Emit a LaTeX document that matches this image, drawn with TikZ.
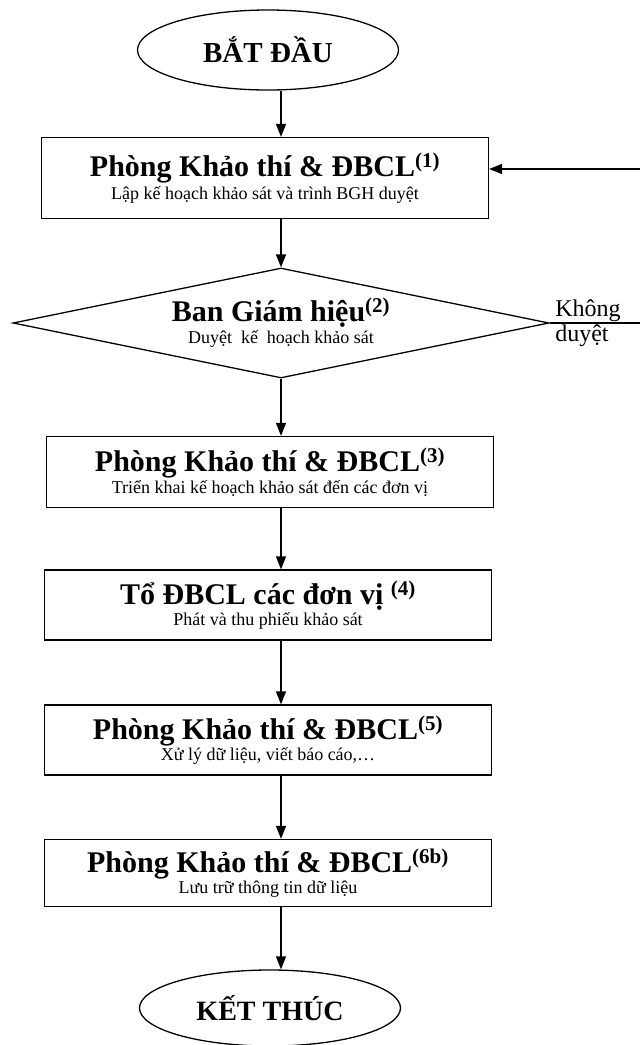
\documentclass[tikz,border=0pt]{standalone}
\usepackage{fontspec}
\setmainfont{Liberation Serif}
\usetikzlibrary{shapes.geometric,arrows.meta}

\newcommand{\tieude}[2]{{\fontsize{30}{32}\selectfont\bfseries #1\textsuperscript{#2}}}
\newcommand{\mota}[1]{{\fontsize{18}{20}\selectfont #1}}

\begin{document}
\begin{tikzpicture}[x=1pt,y=-1pt,line width=1.3pt,>={Triangle[length=13pt,width=10pt]},
  box/.style={rectangle,draw,minimum width=447pt,align=center,inner sep=0pt},
  oval/.style={ellipse,draw,minimum width=261pt,minimum height=80pt,inner sep=0pt}]
\useasboundingbox (0,0) rectangle (640,1045);
\path (268,50) node(start) [oval] {\fontsize{29}{30}\selectfont\bfseries BẮT ĐẦU}
(265,178) node(b1) [box,minimum height=81pt] {\tieude{Phòng Khảo thí \& ĐBCL}{(1)}\\[2pt] \mota{Lập kế hoạch khảo sát và trình BGH duyệt}}
(281,323) node(dia) [diamond,draw,shape aspect=4.87,minimum width=536pt,minimum height=110pt,inner sep=0pt,align=center] {\tieude{Ban Giám hiệu}{(2)}\\[2pt] \mota{Duyệt\ \ kế\ \ hoạch khảo sát}}
(270,472) node(b3) [box,minimum height=71pt] {\tieude{Phòng Khảo thí \& ĐBCL}{(3)}\\[1pt] \mota{Triển khai kế hoạch khảo sát đến các đơn vị}}
(268,605) node(b4) [box,minimum height=70pt] {\tieude{Tổ ĐBCL các đơn vị\ }{(4)}\\[1pt] \mota{Phát và thu phiếu khảo sát}}
(268,740) node(b5) [box,minimum height=70pt] {\tieude{Phòng Khảo thí \& ĐBCL}{(5)}\\[1pt] \mota{Xử lý dữ liệu, viết báo cáo,…}}
(268,873) node(b6) [box,minimum height=67pt] {\tieude{Phòng Khảo thí \& ĐBCL}{(6b)}\\[1pt] \mota{Lưu trữ thông tin dữ liệu}}
(270,1008) node(end) [oval,minimum height=76pt] {\fontsize{28}{30}\selectfont\bfseries KẾT THÚC};
\node[anchor=south west,inner sep=1pt,font=\fontsize{24}{26}\selectfont] (khong) at ([xshift=4pt]dia.east) {Không};
\node[anchor=north west,inner sep=1pt,font=\fontsize{24}{26}\selectfont] (duyet) at ([xshift=4pt]dia.east) {duyệt};
\draw[->] (start.south -| dia.north) -- (b1.north -| dia.north);
\draw[->] (b1.south -| dia.north) -- (dia.north);
\draw[->] (dia.south) -- (b3.north -| dia.south);
\draw[->] (b3.south -| dia.south) -- (b4.north -| dia.south);
\draw[->] (b4.south -| dia.south) -- (b5.north -| dia.south);
\draw[->] (b5.south -| dia.south) -- (b6.north -| dia.south);
\draw[->] (b6.south -| dia.south) -- (end.north -| dia.south);
\draw[->] (dia.east) -- ++(120,0) |- ([yshift=9pt]b1.east);
\end{tikzpicture}
\end{document}
